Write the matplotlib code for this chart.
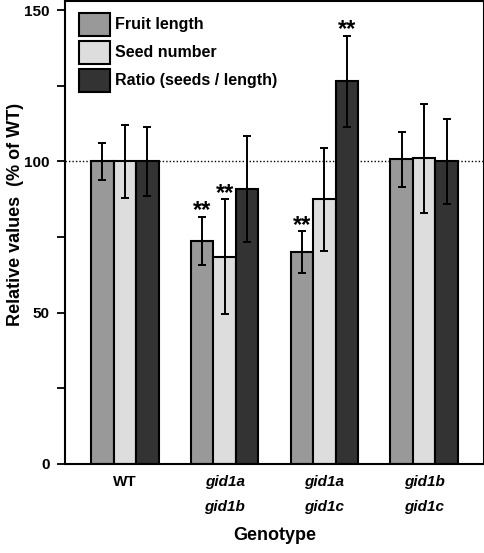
import numpy as np
import matplotlib.pyplot as plt
from matplotlib.patches import Patch

plt.rcParams['font.family'] = ['Liberation Sans', 'DejaVu Sans']
plt.rcParams['font.weight'] = 'bold'

genotypes = ["WT", "gid1a\ngid1b", "gid1a\ngid1c", "gid1b\ngid1c"]
series = ["Fruit length", "Seed number", "Ratio (seeds / length)"]
fruit = [100, 73.8, 70, 100.7]
fruit_err = [6, 8, 7, 9]
seed = [100, 68.5, 87.5, 101.1]
seed_err = [12, 19, 17, 18]
ratio = [100, 91, 126.5, 100]
ratio_err = [11.5, 17.5, 15, 14]
stars = [(1, 0), (1, 1), (2, 0), (2, 2)]  # (group, series) marked **

colors = ["#999999", "#dddddd", "#333333"]
vals = [fruit, seed, ratio]
errs = [fruit_err, seed_err, ratio_err]

fig = plt.figure(figsize=(4.85, 5.53), dpi=100)
ax = fig.add_axes([0.134, 0.161, 0.864, 0.837])

x = np.arange(len(genotypes))
w = 0.226
for i in range(3):
    ax.bar(x + (i - 1) * w, vals[i], w, color=colors[i], edgecolor="black",
           linewidth=1.5, zorder=2)
    ax.errorbar(x + (i - 1) * w, vals[i], yerr=errs[i], fmt="none",
                ecolor="black", elinewidth=1.4, capsize=3, capthick=1.4, zorder=3)

# stars sit just above the error bar caps
for g, s in stars:
    ax.text(g + (s - 1) * w, vals[s][g] + errs[s][g] - 0.2, "**",
            ha="center", va="baseline", fontsize=17, fontweight="bold")

ax.axhline(100, color="black", linestyle=(0, (1, 1.5)), linewidth=1, zorder=1)

ax.set_xlim(-0.60, 3.60)
ax.set_ylim(0, 153)
ax.set_yticks([0, 50, 100, 150])
ax.set_yticks([25, 75, 125], minor=True)
ax.tick_params(axis="y", which="both", direction="out", length=6, width=1.3,
               labelsize=11, pad=5)
ax.tick_params(axis="x", length=0, labelsize=11, pad=8)
ax.set_xticks(x)
ax.set_xticklabels(genotypes, linespacing=2.0)
for lab in ax.get_xticklabels()[1:]:
    lab.set_fontstyle("italic")
for sp in ax.spines.values():
    sp.set_linewidth(1.5)

ax.set_ylabel("Relative values  (% of WT)", fontsize=13, fontweight="bold")
ax.yaxis.set_label_coords(-0.097, 0.54)
ax.set_xlabel("Genotype", fontsize=13, fontweight="bold", labelpad=9)

handles = [Patch(facecolor=c, edgecolor="black", linewidth=1.5) for c in colors]
ax.legend(handles, series, loc="upper left", frameon=False, fontsize=11.5,
          handlelength=1.94, handleheight=1.84, handletextpad=0.3,
          labelspacing=0.31, borderaxespad=0, borderpad=0,
          bbox_to_anchor=(0.033, 0.975))

fig.savefig("out.png", dpi=100)
